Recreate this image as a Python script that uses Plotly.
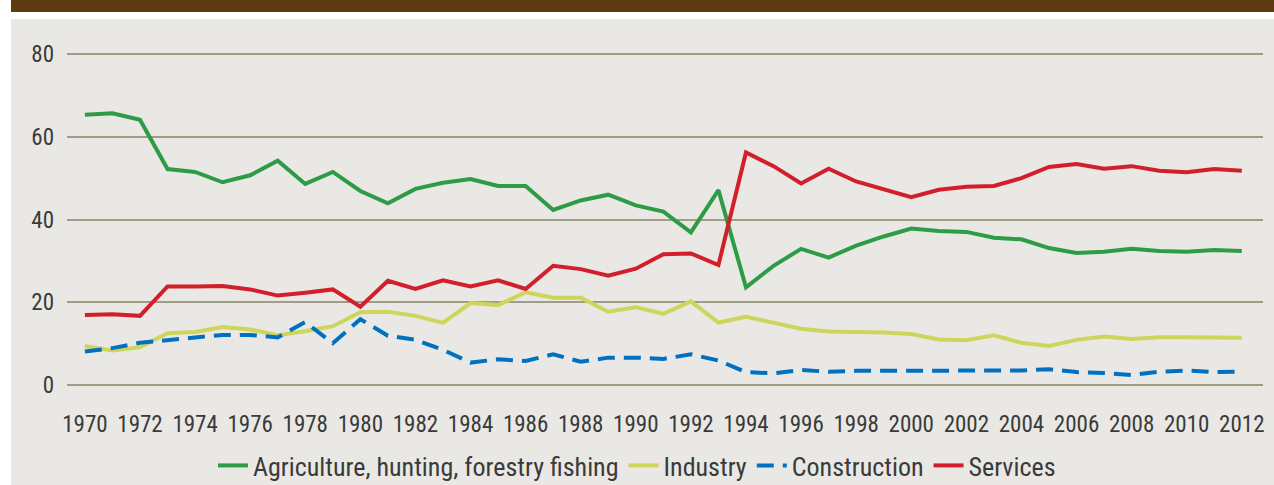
import plotly.graph_objects as go

# 数据
years = list(range(1970, 2013))

agriculture = [65.3, 65.7, 64.1, 52.2, 51.5, 49.0, 50.7, 54.2, 48.6, 51.5,
               46.9, 43.9, 47.4, 48.9, 49.8, 48.1, 48.1, 42.3, 44.6, 46.0,
               43.4, 41.9, 36.9, 47.1, 23.6, 28.8, 32.9, 30.8, 33.7, 35.9,
               37.8, 37.2, 37.0, 35.6, 35.2, 33.1, 31.9, 32.2, 32.9, 32.4,
               32.2, 32.6, 32.4]
industry = [9.4, 8.3, 9.1, 12.5, 12.8, 14.0, 13.4, 12.0, 13.0, 14.2,
            17.6, 17.7, 16.7, 15.0, 19.8, 19.3, 22.4, 21.1, 21.1, 17.7,
            18.8, 17.2, 20.2, 15.1, 16.5, 15.1, 13.6, 12.9, 12.9, 12.7,
            12.3, 11.0, 10.8, 12.0, 10.2, 9.4, 10.9, 11.7, 11.1, 11.5,
            11.5, 11.4, 11.4]
construction = [8.1, 8.9, 10.2, 10.9, 11.5, 12.1, 12.1, 11.5, 15.2, 10.1,
                15.9, 11.9, 10.9, 8.5, 5.4, 6.2, 5.8, 7.4, 5.6, 6.6,
                6.6, 6.3, 7.4, 5.9, 3.1, 2.8, 3.6, 3.2, 3.4, 3.4,
                3.4, 3.5, 3.6, 3.6, 3.5, 3.8, 3.1, 2.9, 2.4, 3.2,
                3.5, 3.1, 3.2]
services = [16.9, 17.1, 16.7, 23.8, 23.8, 23.9, 23.1, 21.6, 22.3, 23.1,
            18.9, 25.2, 23.2, 25.3, 23.8, 25.3, 23.2, 28.8, 28.0, 26.4,
            28.1, 31.6, 31.8, 29.0, 56.2, 52.9, 48.7, 52.3, 49.2, 47.2,
            45.4, 47.2, 47.9, 48.1, 50.0, 52.7, 53.4, 52.3, 52.9, 51.8,
            51.4, 52.2, 51.8]

x_ticks = list(range(1970, 2013, 2))
y_ticks = [0, 20, 40, 60, 80]

# 配色
C_AGRI = '#2E9B47'
C_IND = '#CDD65A'
C_CONS = '#0070C0'
C_SERV = '#D21F2B'
C_GRID = '#A09C87'
C_PANEL = '#E9E8E4'
C_BAND = '#5E3A10'
FONT = 'Liberation Sans Narrow, Roboto Condensed, Arial Narrow, sans-serif'

W, H = 1274, 485
L, R, T, B = 67, 11, 52, 98
pw, ph = W - L - R, H - T - B


def px_x(p):
    return (p - L) / pw


def px_y(p):
    return (H - B - p) / ph


fig = go.Figure()

fig.add_trace(go.Scatter(x=years, y=agriculture, mode='lines',
                         name='Agriculture, hunting, forestry fishing',
                         line=dict(color=C_AGRI, width=4)))
fig.add_trace(go.Scatter(x=years, y=industry, mode='lines', name='Industry',
                         line=dict(color=C_IND, width=4)))
fig.add_trace(go.Scatter(x=years, y=construction, mode='lines', name='Construction',
                         line=dict(color=C_CONS, width=4, dash='17px,9px')))
fig.add_trace(go.Scatter(x=years, y=services, mode='lines', name='Services',
                         line=dict(color=C_SERV, width=4)))

# 背景：顶部棕色条 + 灰色面板
shapes = [
    dict(type='rect', xref='paper', yref='paper', layer='below',
         x0=px_x(11), x1=px_x(W), y0=px_y(12), y1=px_y(0),
         fillcolor=C_BAND, line_width=0),
    dict(type='rect', xref='paper', yref='paper', layer='below',
         x0=px_x(11), x1=px_x(W), y0=px_y(H), y1=px_y(19),
         fillcolor=C_PANEL, line_width=0),
]

fig.update_layout(
    width=W, height=H,
    margin=dict(l=L, r=R, t=T, b=B, pad=0, autoexpand=False),
    paper_bgcolor='white',
    plot_bgcolor='rgba(0,0,0,0)',
    font=dict(family=FONT, size=23, color='#3a3a3a'),
    shapes=shapes,
    showlegend=True,
    legend=dict(orientation='h', x=px_x(637), xanchor='center',
                y=px_y(442), yanchor='top', bgcolor='rgba(0,0,0,0)',
                font=dict(size=26), itemwidth=30),
)
fig.update_xaxes(range=[1969.35, 2012.77], tickvals=x_ticks,
                 showgrid=False, zeroline=False, showline=False,
                 ticks='', ticklabelstandoff=21)
fig.update_yaxes(range=[-0.5, 80.5], tickvals=y_ticks,
                 showgrid=True, gridcolor=C_GRID, gridwidth=1.6,
                 zeroline=False, showline=False, ticks='',
                 ticklabelstandoff=12)

fig.write_html('out.html', config={'displayModeBar': False},
               post_script="document.body.style.margin='0';")
